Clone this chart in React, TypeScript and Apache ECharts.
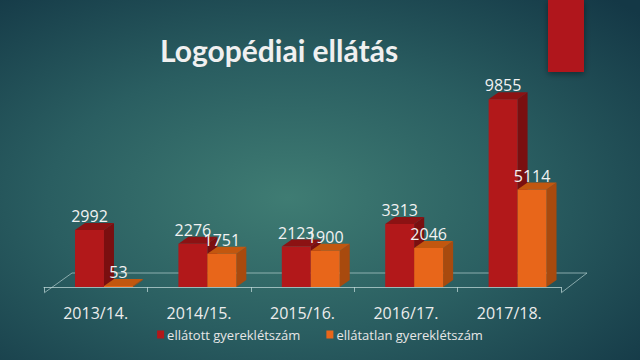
import React, { useEffect, useRef } from "react";
import * as echarts from "echarts";

const categories = ["2013/14.", "2014/15.", "2015/16.", "2016/17.", "2017/18."];
const seriesNames = ["ellátott gyereklétszám", "ellátatlan gyereklétszám"];
const served = [2992, 2276, 2123, 3313, 9855];
const unserved = [53, 1751, 1900, 2046, 5114];

const palettes = [
  { front: "#b2181a", side: "#7a0f10", top: "#8c1213" },
  { front: "#e8661a", side: "#a84a0e", top: "#c2570f" },
];

const GRID_LEFT = 44;
const GRID_RIGHT = 79;
const GRID_TOP = 96.5;
const GRID_BOTTOM = 73;
const DX = 10;
const DY = -7;

function makeRender(si: number) {
  return (params: any, api: any) => {
    const idx = api.value(0);
    const val = api.value(1);
    const top = api.coord([idx, val]);
    const base = api.coord([idx, 0]);
    const catW = api.size([1, 0])[0];
    const bw = catW * 0.28;
    const shift = catW * 0.08;
    const cx = top[0] + shift;
    const x0 = si === 0 ? cx - bw : cx;
    const x1 = x0 + bw;
    const yt = top[1];
    const yb = base[1];
    const p = palettes[si];
    return {
      type: "group",
      children: [
        {
          type: "polygon",
          shape: { points: [[x1, yt], [x1 + DX, yt + DY], [x1 + DX, yb + DY], [x1, yb]] },
          style: { fill: p.side },
        },
        {
          type: "polygon",
          shape: { points: [[x0, yt], [x0 + DX, yt + DY], [x1 + DX, yt + DY], [x1, yt]] },
          style: { fill: p.top },
        },
        {
          type: "rect",
          shape: { x: x0, y: yt, width: bw, height: Math.max(yb - yt, 0.5) },
          style: { fill: p.front },
        },
        {
          type: "text",
          x: (x0 + x1) / 2,
          y: yt + DY + 1,
          style: {
            text: String(val),
            fill: "#f2f2f2",
            font: "16px 'Open Sans'",
            textAlign: "center",
            textVerticalAlign: "bottom",
          },
          z2: 10,
        },
      ],
    };
  };
}

export default function App() {
  const ref = useRef<HTMLDivElement>(null);
  useEffect(() => {
    const chart = echarts.init(ref.current!, undefined, { renderer: "svg" });
    const W = 640;
    const H = 360;
    const frontY = H - GRID_BOTTOM + 6;
    const backY = frontY - 20;
    const lx = GRID_LEFT;
    const rx = W - GRID_RIGHT;
    const lineStyle = { stroke: "rgba(190,215,215,0.65)", lineWidth: 1 };
    chart.setOption({
      animation: false,
      backgroundColor: new echarts.graphic.RadialGradient(0.45, 0.55, 0.75, [
        { offset: 0, color: "#3f7c73" },
        { offset: 0.5, color: "#2a5e61" },
        { offset: 1, color: "#143846" },
      ]),
      title: {
        text: "Logopédiai ellátás",
        left: 155,
        top: 30,
        textStyle: { color: "#f0f0f0", fontSize: 30, fontWeight: "bold", fontFamily: "Lato" },
      },
      legend: {
        bottom: 14,
        left: "center",
        itemWidth: 7,
        itemHeight: 8,
        itemGap: 26,
        icon: "rect",
        textStyle: { color: "#e6e6e6", fontSize: 13, fontFamily: "'Open Sans'", padding: [0, 0, 0, -2] },
        data: seriesNames,
      },
      graphic: [
        {
          type: "rect",
          shape: { x: 548, y: 0, width: 36, height: 72 },
          style: { fill: "#b0181a", shadowBlur: 6, shadowColor: "rgba(0,0,0,0.4)", shadowOffsetY: 2 },
        },
        { type: "line", shape: { x1: lx + 28, y1: backY, x2: rx + 26, y2: backY }, style: lineStyle, z: -1 },
        { type: "line", shape: { x1: lx, y1: frontY, x2: lx + 28, y2: backY }, style: lineStyle, z: -1 },
        { type: "line", shape: { x1: rx, y1: frontY, x2: rx + 26, y2: backY }, style: lineStyle, z: -1 },
      ],
      grid: { left: GRID_LEFT, right: GRID_RIGHT, top: GRID_TOP, bottom: GRID_BOTTOM },
      xAxis: {
        type: "category",
        data: categories,
        offset: 6,
        axisLine: { lineStyle: { color: "rgba(190,215,215,0.75)" } },
        axisTick: { show: true, length: 5, lineStyle: { color: "rgba(190,215,215,0.75)" } },
        axisLabel: { color: "#ececec", fontSize: 16, fontFamily: "'Open Sans'", margin: 12 },
      },
      yAxis: { type: "value", min: 0, max: 10000, show: false, splitLine: { show: false } },
      series: [
        {
          type: "custom",
          name: seriesNames[0],
          renderItem: makeRender(0),
          itemStyle: { color: palettes[0].front },
          encode: { x: 0, y: 1 },
          data: served.map((v, i) => [i, v]),
          z: 2,
        },
        {
          type: "custom",
          name: seriesNames[1],
          renderItem: makeRender(1),
          itemStyle: { color: palettes[1].front },
          encode: { x: 0, y: 1 },
          data: unserved.map((v, i) => [i, v]),
          z: 3,
        },
      ],
    });
    return () => chart.dispose();
  }, []);
  return (
    <div
      ref={ref}
      style={{ position: "absolute", left: 0, top: 0, width: 640, height: 360 }}
    />
  );
}
